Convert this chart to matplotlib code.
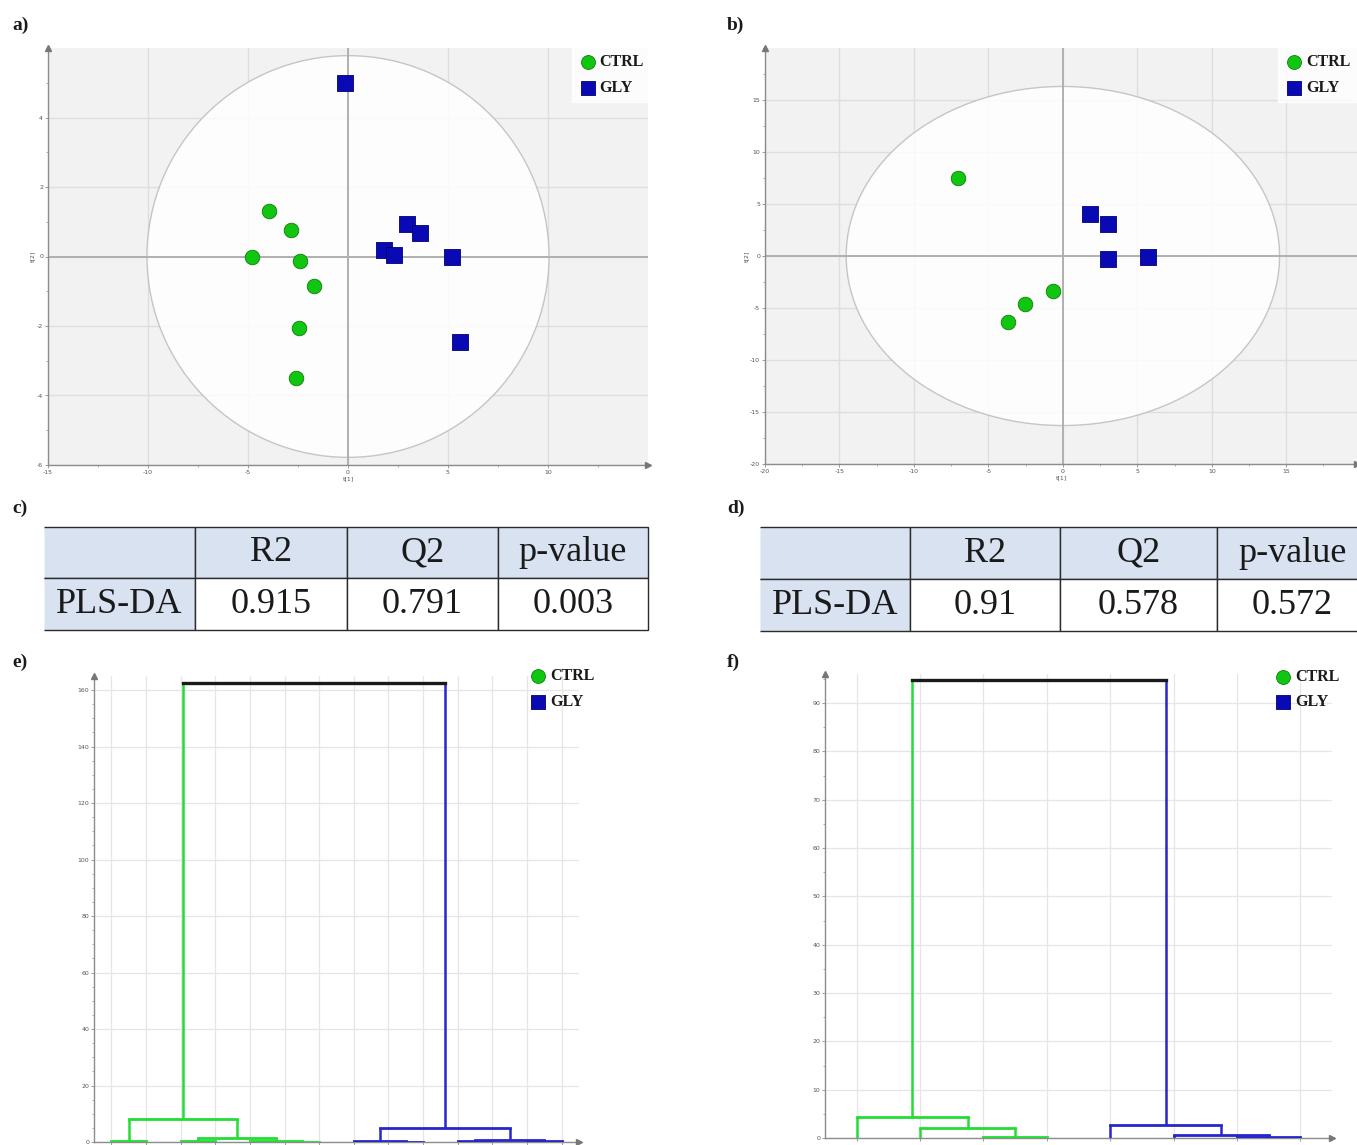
import matplotlib
matplotlib.use("Agg")
import matplotlib.pyplot as plt
import numpy as np
from matplotlib.patches import Ellipse

W, H = 1357, 1145

# ---- score plot data (PLS-DA) ----
a_ctrl_x = [-3.96, -2.86, -4.82, -2.40, -1.70, -2.46, -2.61]
a_ctrl_y = [1.31, 0.76, -0.02, -0.14, -0.85, -2.05, -3.50]
a_gly_x = [-0.13, 2.97, 3.58, 1.79, 2.32, 5.18, 5.62]
a_gly_y = [4.99, 0.94, 0.67, 0.20, 0.03, 0.00, -2.45]
a_ellipse = (10.05, 5.78)

b_ctrl_x = [-7.04, -3.70, -2.55, -0.68]
b_ctrl_y = [7.53, -6.35, -4.60, -3.33]
b_gly_x = [1.82, 3.00, 3.00, 5.70]
b_gly_y = [4.00, 3.04, -0.29, -0.06]
b_ellipse = (14.55, 16.3)

# ---- model quality tables ----
table_cols = ["", "R2", "Q2", "p-value"]
c_row = ["PLS-DA", "0.915", "0.791", "0.003"]
d_row = ["PLS-DA", "0.91", "0.578", "0.572"]

# ---- dendrograms: (left node, right node, height), leaf groups ----
e_groups = ["CTRL"] * 7 + ["GLY"] * 7
e_left = [5, 4, 2, 0, 16, 17, 8, 7, 12, 10, 23, 21, 19]
e_right = [6, 14, 3, 1, 15, 18, 9, 20, 13, 11, 22, 24, 25]
e_height = [0.1, 0.3, 0.5, 0.5, 1.5, 8.0, 0.1, 0.3, 0.2, 0.3, 0.8, 4.8, 162.5]

f_groups = ["CTRL"] * 4 + ["GLY"] * 4
f_left = [2, 1, 0, 6, 5, 4, 10]
f_right = [3, 8, 9, 7, 11, 12, 13]
f_height = [0.2, 2.0, 4.4, 0.2, 0.6, 2.7, 94.7]

GREEN = "#11c611"
GREEN_EDGE = "#0b7d0b"
BLUE = "#0a0ab4"
BLUE_EDGE = "#00006e"
LINE_GREEN = "#22dd33"
LINE_BLUE = "#2626cc"
SERIF = ["Liberation Serif", "DejaVu Serif"]


def fig_axes(fig, x0, y0, x1, y1):
    # pixel box (top-left origin) -> figure axes
    return fig.add_axes([x0 / W, 1 - y1 / H, (x1 - x0) / W, (y1 - y0) / H])


def style_frame(ax):
    for s in ["top", "right"]:
        ax.spines[s].set_visible(False)
    for s in ["left", "bottom"]:
        ax.spines[s].set_color("#8c8c8c")
        ax.spines[s].set_linewidth(1.0)
    ax.plot(0, 1, marker="^", ms=4, color="#777777", transform=ax.transAxes,
            clip_on=False, zorder=10)
    ax.plot(1, 0, marker=">", ms=4, color="#777777", transform=ax.transAxes,
            clip_on=False, zorder=10)
    ax.tick_params(labelsize=4.5, labelcolor="#555555", color="#8c8c8c",
                   length=2.5, width=0.6, pad=1)
    ax.tick_params(which="minor", length=1.5, width=0.5, color="#8c8c8c")


def add_legend(ax, anchor, framed):
    h1 = ax.scatter([], [], s=100, marker="o", color=GREEN, edgecolors=GREEN_EDGE, linewidths=0.6)
    h2 = ax.scatter([], [], s=100, marker="s", color=BLUE, edgecolors=BLUE_EDGE, linewidths=0.6)
    leg = ax.legend([h1, h2], ["CTRL", "GLY"], loc="upper right", bbox_to_anchor=anchor,
                    borderaxespad=0, frameon=framed, handletextpad=0.15,
                    labelspacing=0.6, borderpad=0.4, handlelength=1.2,
                    prop={"family": SERIF, "weight": "bold", "size": 11.5})
    if framed:
        leg.get_frame().set_facecolor("white")
        leg.get_frame().set_edgecolor("white")
        leg.get_frame().set_boxstyle("square", pad=0)
    for t in leg.get_texts():
        t.set_color("#1a1a1a")
    return leg


def score_plot(ax, cx, cy, gx, gy, ell, xlim, ylim, xstep, ystep, xlab_max, ylab_max):
    ax.set_facecolor("#f2f2f2")
    ax.set_xlim(*xlim)
    ax.set_ylim(*ylim)
    xt = np.arange(xlim[0], xlab_max + 0.01, xstep)
    yt = np.arange(ylim[0], ylab_max + 0.01, ystep)
    ax.set_xticks(xt)
    ax.set_yticks(yt)
    ax.set_xticks(np.arange(xlim[0], xlim[1] + 0.01, xstep / 2), minor=True)
    ax.set_yticks(np.arange(ylim[0], ylim[1] + 0.01, ystep / 2), minor=True)
    ax.set_xticklabels([f"{v:g}" for v in xt])
    ax.set_yticklabels([f"{v:g}" for v in yt])
    ax.grid(True, which="major", color="#dedede", linewidth=1.0, zorder=0)
    ax.set_axisbelow(True)
    ax.add_patch(Ellipse((0, 0), 2 * ell[0], 2 * ell[1], facecolor="white",
                         edgecolor="#bdbdbd", linewidth=1.0, alpha=0.85, zorder=1))
    ax.axhline(0, color="#b0b0b0", linewidth=1.4, zorder=2)
    ax.axvline(0, color="#b0b0b0", linewidth=1.4, zorder=2)
    ax.scatter(cx, cy, s=110, marker="o", color=GREEN, edgecolors=GREEN_EDGE,
               linewidths=0.6, zorder=5)
    ax.scatter(gx, gy, s=130, marker="s", color=BLUE, edgecolors=BLUE_EDGE,
               linewidths=0.6, zorder=5)
    ax.set_xlabel("t[1]", fontsize=4.5, color="#555555", labelpad=1)
    ax.set_ylabel("t[2]", fontsize=4.5, color="#555555", labelpad=1)
    style_frame(ax)


def draw_table(ax, row, col_w):
    ax.axis("off")
    tab = ax.table(cellText=[table_cols, row], bbox=[0, 0, 1, 1], cellLoc="center",
                   colWidths=col_w)
    tab.auto_set_font_size(False)
    for (r, c), cell in tab.get_celld().items():
        cell.set_edgecolor("#2b2b2b")
        cell.set_linewidth(1.0)
        cell.set_facecolor("#d9e2f1" if (r == 0 or c == 0) else "white")
        cell.get_text().set_fontsize(26)
        cell.get_text().set_fontfamily(SERIF)
        cell.get_text().set_color("#1a1a1a")
        if c == 0:
            cell.visible_edges = "TBR"
    return tab


def dendrogram(ax, groups, left, right, height, ylim, ystep):
    n = len(groups)
    xpos = {i: float(i) for i in range(n)}
    ypos = {i: 0.0 for i in range(n)}
    col = {i: (LINE_GREEN if g == "CTRL" else LINE_BLUE) for i, g in enumerate(groups)}
    for k, (a, b, h) in enumerate(zip(left, right, height)):
        node = n + k
        ca, cb = col[a], col[b]
        merged = ca if ca == cb else "#1a1a1a"
        lw_h = 2.0 if merged != "#1a1a1a" else 2.4
        ax.plot([xpos[a], xpos[a]], [ypos[a], h], color=ca, lw=1.8, solid_capstyle="butt", zorder=3)
        ax.plot([xpos[b], xpos[b]], [ypos[b], h], color=cb, lw=1.8, solid_capstyle="butt", zorder=3)
        ax.plot([xpos[a], xpos[b]], [h, h], color=merged, lw=lw_h, solid_capstyle="projecting", zorder=4)
        xpos[node] = (xpos[a] + xpos[b]) / 2
        ypos[node] = h
        col[node] = merged
    ax.set_xlim(-0.5, n - 0.5)
    ax.set_ylim(*ylim)
    ax.set_xticks(range(n))
    ax.set_xticklabels([])
    ax.tick_params(axis="x", length=0)
    ax.set_yticks(np.arange(0, ylim[1], ystep))
    ax.set_yticks(np.arange(0, ylim[1], 5), minor=True)
    ax.grid(True, which="major", color="#e6e6e6", linewidth=0.9, zorder=0)
    ax.set_axisbelow(True)
    style_frame(ax)


fig = plt.figure(figsize=(W / 100, H / 100), dpi=100)

ax_a = fig_axes(fig, 48, 48, 648, 465)
score_plot(ax_a, a_ctrl_x, a_ctrl_y, a_gly_x, a_gly_y, a_ellipse,
           (-15, 15), (-6, 6), 5, 2, 10, 4)
add_legend(ax_a, (1.004, 1.0), True)

ax_b = fig_axes(fig, 765, 48, 1357, 464)
score_plot(ax_b, b_ctrl_x, b_ctrl_y, b_gly_x, b_gly_y, b_ellipse,
           (-20, 19.75), (-20, 20), 5, 5, 15, 15)
add_legend(ax_b, (1.0, 1.0), True)

ax_c = fig_axes(fig, 44, 527, 648, 630)
draw_table(ax_c, c_row, [151, 152, 151, 150])

ax_d = fig_axes(fig, 760, 527, 1368, 631)
draw_table(ax_d, d_row, [150, 150, 157, 151])

ax_e = fig_axes(fig, 94, 676, 579, 1142)
dendrogram(ax_e, e_groups, e_left, e_right, e_height, (0, 165), 20)
add_legend(ax_e, (1.045, 1.03), False)

ax_f = fig_axes(fig, 825, 674, 1332, 1138)
dendrogram(ax_f, f_groups, f_left, f_right, f_height, (0, 96), 10)
add_legend(ax_f, (1.027, 1.025), False)

for lab, x, y in [("a)", 12, 25), ("b)", 727, 25), ("c)", 12, 508),
                  ("d)", 727, 508), ("e)", 12, 662), ("f)", 727, 662)]:
    fig.text(x / W, 1 - y / H, lab, fontsize=14, fontweight="bold",
             family=SERIF, va="center", ha="left", color="#1a1a1a")

fig.savefig("out.png", dpi=100, facecolor="white")
